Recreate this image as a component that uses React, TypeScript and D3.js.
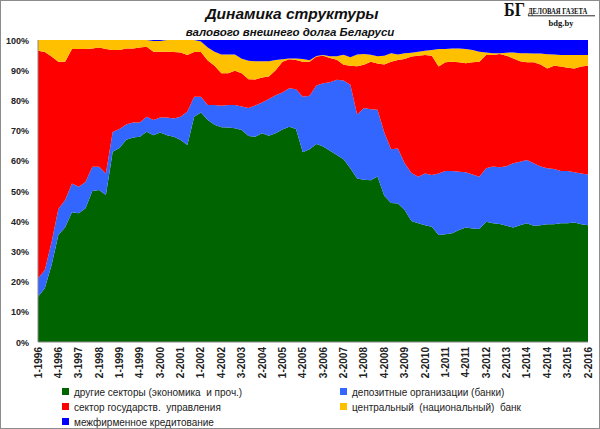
import React, { useEffect } from "react";
import * as d3 from "d3";

// ---- data (shares in % of gross external debt) ----
const tickLabels = [
  "1-1996", "4-1996", "3-1997", "2-1998", "1-1999", "4-1999", "3-2000", "2-2001",
  "1-2002", "4-2002", "3-2003", "2-2004", "1-2005", "4-2005", "3-2006", "2-2007",
  "1-2008", "4-2008", "3-2009", "2-2010", "1-2011", "4-2011", "3-2012", "2-2013",
  "1-2014", "4-2014", "3-2015", "2-2016",
];

const categories: string[] = [];
for (let y = 1996; y <= 2016; y++) {
  for (let q = 1; q <= 4; q++) {
    if (y === 2016 && q > 2) break;
    categories.push(`${q}-${y}`);
  }
}

const otherSectors = [
  15, 17.8, 25.5, 35.4, 38, 43, 42.6, 44.3, 50, 50.3, 48.7, 63, 64.2, 67, 67.7, 68, 69.6, 68.5, 69.4, 68.5,
  68, 66.9, 65.2, 74.6, 76, 73.5, 71.9, 71.1, 71, 70.8, 70.2, 68.2, 68, 69.1, 68.3, 69.1, 70.4, 71.3, 70.5, 62.8,
  63.8, 65.6, 64.7, 63.3, 61.9, 60.5, 57.5, 54.1, 53.7, 53.6, 54.8, 48.4, 46, 45.9, 43.7, 40.1, 39.3, 38.7, 38.2, 35.4,
  35.7, 36, 37.1, 37.9, 37.6, 37.4, 39.8, 39.3, 39.1, 38.5, 37.9, 38.7, 39.3, 38.5, 38.7, 39, 39, 39.3, 39.3, 39.6,
  39, 38.7,
];
const banks = [
  6, 6, 7.5, 8.6, 9, 9.5, 8.8, 8.7, 8, 7.7, 7.1, 6.5, 6.3, 5, 5, 4.7, 5, 5, 4.9, 5.8,
  6, 7.7, 11.1, 6.6, 5.2, 5, 6.6, 7.1, 7.5, 7.7, 7.8, 9.3, 10.3, 10.2, 12.2, 12.6, 12.2, 12.7, 13.2, 18.4,
  17.7, 19.3, 21, 22.7, 24.9, 26.1, 27.7, 21.2, 23.8, 23.5, 22.1, 21, 17.8, 18.2, 15.5, 15.9, 15.4, 17.1, 17.1, 20.4,
  20.9, 20.6, 19.3, 18.3, 17.9, 17.3, 17.7, 18.8, 18.8, 19.7, 21.3, 21, 21, 20.7, 19.4, 18.5, 18.3, 17.3, 17.3, 16.6,
  16.8, 16.8,
];
const government = [
  75.4, 72.2, 61.5, 48.8, 45.8, 44.5, 45.6, 44, 39.2, 39.5, 41.2, 27.2, 26.2, 25.2, 24.5, 24.8, 23.2, 22.6, 21.8, 21.8,
  22, 21.3, 18.7, 14.8, 14.8, 14.7, 13, 10.8, 10.5, 11.3, 11, 9.5, 8.6, 8.3, 7.4, 8.3, 10.2, 9.6, 9.7, 11.6,
  11.3, 9.6, 9.1, 8, 6.7, 5.2, 6.3, 16, 14.3, 15.7, 15.3, 22.5, 29, 29.3, 34.5, 38.5, 40.1, 39.2, 39.5, 35.4,
  36, 36.2, 36.2, 36.1, 37.1, 38.1, 37.5, 36.9, 37.5, 36.6, 34.7, 33.3, 32.3, 33.4, 33.8, 33.1, 34.2, 34.6, 34.2, 34.4,
  35.4, 36,
];
const centralBank = [
  3.6, 4, 5.5, 7.2, 7.2, 3, 3, 3, 2.8, 2.5, 3, 3.3, 3.3, 2.8, 2.8, 2.5, 2.2, 3.6, 3.6, 3.9,
  4, 4.1, 5, 4, 3.5, 4.3, 4.6, 6.2, 6.2, 5.4, 4.8, 6.1, 6.1, 5.4, 5.1, 3.4, 0.8, 0.3, 0.5, 0.9,
  0.5, 0.2, 0.2, 0.6, 1.1, 3.3, 2.8, 3.9, 3.6, 2.3, 2.4, 2.9, 2.8, 1.8, 1.9, 1.3, 1.3, 1.4, 1.9, 5.8,
  4.4, 4.4, 4.6, 4.7, 4.1, 3.3, 0.9, 0.6, 0.2, 1, 2, 2.6, 3, 2.9, 3.6, 4.7, 3.7, 3.8, 4.2, 4.4,
  3.8, 3.5,
];
const interfirm = [
  0, 0, 0, 0, 0, 0, 0, 0, 0, 0, 0, 0, 0, 0, 0, 0, 0, 0.3, 0.3, 0,
  0, 0, 0, 0, 0.5, 2.5, 3.9, 4.8, 4.8, 4.8, 6.2, 6.9, 7, 7, 7, 6.6, 6.4, 6.1, 6.1, 6.3,
  6.7, 5.3, 5, 5.4, 5.4, 4.9, 5.7, 4.8, 4.6, 4.9, 5.4, 5.2, 4.4, 4.8, 4.4, 4.2, 3.9, 3.6, 3.3, 3,
  3, 2.8, 2.8, 3, 3.3, 3.9, 4.1, 4.4, 4.4, 4.2, 4.1, 4.4, 4.4, 4.5, 4.5, 4.7, 4.8, 5, 5, 5,
  5, 5,
];

const seriesNames = [
  "другие секторы (экономика  и проч.)",
  "депозитные организации (банки)",
  "сектор государств.  управления",
  "центральный  (национальный)  банк",
  "межфирменное кредитование",
];
const seriesColors = ["#006400", "#3366ff", "#ff0000", "#ffc000", "#0000ff"];
const yTicks = [0, 10, 20, 30, 40, 50, 60, 70, 80, 90, 100];

export default function App() {
  useEffect(() => {
    document.body.style.margin = "0";
  }, []);

  const W = 600, H = 429;
  const left = 38, right = 588, top = 40, bottom = 342;

  const rows = categories.map((c, i) => ({
    i,
    s0: otherSectors[i],
    s1: banks[i],
    s2: government[i],
    s3: centralBank[i],
    s4: interfirm[i],
  }));
  const keys = ["s0", "s1", "s2", "s3", "s4"];
  const stacked = d3.stack<any>().keys(keys).offset(d3.stackOffsetExpand)(rows);

  const x = d3.scaleLinear().domain([0, categories.length - 1]).range([left, right]);
  const y = d3.scaleLinear().domain([0, 1]).range([bottom, top]);
  const area = d3
    .area<any>()
    .x((d) => x(d.data.i))
    .y0((d) => y(d[0]))
    .y1((d) => y(d[1]));

  const font = "'Liberation Sans', Arial, sans-serif";

  const legendItems = [
    { k: 0, x: 66, y: 392 },
    { k: 1, x: 344, y: 392 },
    { k: 2, x: 66, y: 407 },
    { k: 3, x: 344, y: 407 },
    { k: 4, x: 66, y: 422 },
  ];

  return (
    <svg width={W} height={H} style={{ position: "absolute", left: 0, top: 0, background: "#fff" }} fontFamily={font}>
      <rect x={0.5} y={0.5} width={W - 1} height={H - 1} fill="#fff" stroke="#8c8c8c" />
      {/* title */}
      <text x={292} y={19} textAnchor="middle" fontSize={15.5} fontWeight="bold" fontStyle="italic" fill="#111">
        Динамика структуры
      </text>
      <text x={290} y={36} textAnchor="middle" fontSize={11.5} fontWeight="bold" fontStyle="italic" fill="#111">
        валового  внешнего долга Беларуси
      </text>
      {/* logo */}
      <g fontFamily="'Liberation Serif', 'DejaVu Serif', serif" fill="#111">
        <g transform="translate(504,16) scale(0.85,1)">
          <text x={0} y={0} fontSize={19} fontWeight="bold">БГ</text>
        </g>
        <g transform="translate(528,13.5) scale(0.74,1)">
          <text x={0} y={0} fontSize={9} fontWeight="bold">ДЕЛОВАЯ ГАЗЕТА</text>
        </g>
        <line x1={528} x2={595} y1={15.8} y2={15.8} stroke="#111" strokeWidth={0.9} />
        <text x={561} y={26} fontSize={8.5} fontWeight="bold" textAnchor="middle">bdg.by</text>
      </g>
      {/* areas */}
      {stacked.map((s, k) => (
        <path key={k} d={area(s as any) || ""} fill={seriesColors[k]} />
      ))}
      {/* axes */}
      <line x1={left} x2={left} y1={top} y2={bottom} stroke="#888" />
      <line x1={left} x2={right} y1={bottom} y2={bottom} stroke="#888" />
      {yTicks.map((t) => (
        <text key={t} x={29} y={y(t / 100) + 3.5} textAnchor="end" fontSize={9} fontWeight="bold" fill="#222">
          {t}%
        </text>
      ))}
      {tickLabels.map((lab) => {
        const i = categories.indexOf(lab);
        const xx = x(i);
        return (
          <text
            key={lab}
            transform={`translate(${xx + 3.5},${bottom + 5}) rotate(-90)`}
            textAnchor="end"
            fontSize={10}
            fontWeight="bold"
            fill="#222"
          >
            {lab}
          </text>
        );
      })}
      {/* legend */}
      {legendItems.map((it) => (
        <g key={it.k}>
          <rect x={it.x - 4} y={it.y - 4} width={7} height={7} fill={seriesColors[it.k]} />
          <text x={it.x + 8} y={it.y + 3.5} fontSize={10} fill="#222" style={{ whiteSpace: "pre" }}>
            {seriesNames[it.k]}
          </text>
        </g>
      ))}
    </svg>
  );
}
